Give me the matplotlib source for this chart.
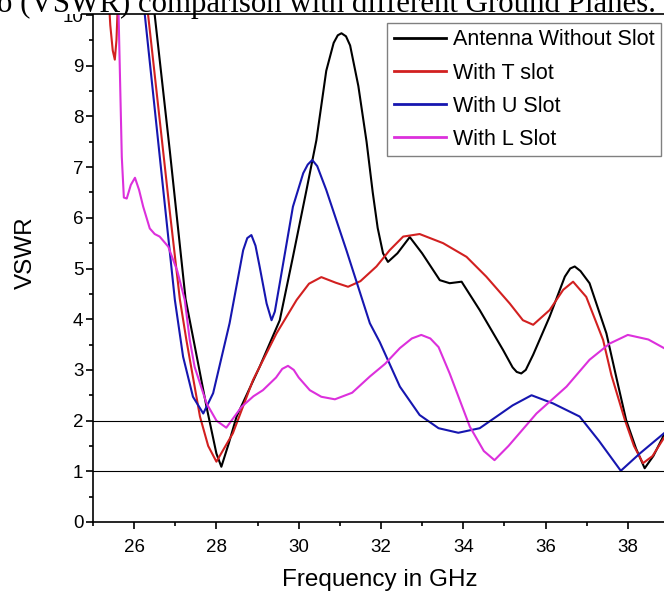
import matplotlib
matplotlib.use('Agg')
import matplotlib.pyplot as plt
from matplotlib.lines import Line2D
from matplotlib.patches import Rectangle

plt.rcParams['font.family'] = ['Liberation Sans', 'DejaVu Sans']

# ---- data (frequency in GHz, VSWR) ----
freq_noslot = [26.37, 26.5, 26.87, 27.25, 27.55, 27.76, 28.0, 28.12, 28.3, 28.49, 29.05, 29.54,
               29.86, 30.19, 30.43, 30.67, 30.85, 30.95, 31.04, 31.15, 31.25, 31.45, 31.65, 31.8,
               31.92, 32.05, 32.17, 32.4, 32.7, 33.0, 33.43, 33.67, 33.96, 34.4, 34.97, 35.2,
               35.3, 35.41, 35.52, 35.7, 36.1, 36.47, 36.6, 36.71, 36.85, 37.07, 37.48, 37.75,
               37.96, 38.2, 38.41, 38.62, 38.88]
vswr_noslot = [11, 10, 7.3, 4.4, 3.15, 2.27, 1.35, 1.09, 1.55, 2.08, 3.06, 3.98,
               5.23, 6.55, 7.53, 8.9, 9.45, 9.6, 9.64, 9.58, 9.4, 8.6, 7.5, 6.5,
               5.8, 5.3, 5.13, 5.3, 5.62, 5.3, 4.77, 4.71, 4.74, 4.18, 3.39, 3.05,
               2.96, 2.93, 3.0, 3.3, 4.05, 4.84, 5.0, 5.04, 4.95, 4.71, 3.72, 2.75,
               2.01, 1.45, 1.06, 1.3, 1.72]

freq_t = [25.35, 25.42, 25.48, 25.53, 25.57, 25.63, 26.2, 26.34, 26.87, 27.11, 27.27, 27.6,
          27.8, 28.0, 28.4, 28.89, 29.46, 29.95, 30.25, 30.55, 30.9, 31.2, 31.5, 31.89,
          32.21, 32.54, 32.94, 33.51, 34.08, 34.56, 35.13, 35.45, 35.7, 36.1, 36.43, 36.67,
          36.99, 37.4, 37.6, 37.93, 38.15, 38.37, 38.6, 38.88]
vswr_t = [10.8, 9.8, 9.3, 9.12, 9.5, 10.8, 11, 10, 6.1, 4.4, 3.59, 2.08,
          1.5, 1.19, 1.75, 2.8, 3.72, 4.38, 4.7, 4.83, 4.72, 4.64, 4.75, 5.04,
          5.36, 5.63, 5.68, 5.5, 5.23, 4.84, 4.31, 3.98, 3.89, 4.18, 4.58, 4.74,
          4.44, 3.59, 2.9, 2.01, 1.5, 1.16, 1.3, 1.66]

freq_u = [26.12, 26.26, 26.99, 27.19, 27.43, 27.68, 27.92, 28.32, 28.65, 28.75, 28.85, 28.95,
          29.05, 29.22, 29.34, 29.42, 29.54, 29.86, 30.11, 30.22, 30.33, 30.45, 30.67, 31.16,
          31.73, 31.97, 32.46, 32.94, 33.4, 33.88, 34.4, 34.81, 35.2, 35.66, 36.18, 36.83,
          37.3, 37.83, 38.29, 38.88]
vswr_u = [11, 10, 4.38, 3.26, 2.47, 2.14, 2.54, 3.92, 5.36, 5.6, 5.66, 5.45,
          5.04, 4.31, 3.98, 4.15, 4.71, 6.22, 6.88, 7.05, 7.14, 7.02, 6.55, 5.36,
          3.92, 3.55, 2.67, 2.11, 1.85, 1.76, 1.85, 2.08, 2.3, 2.5, 2.34, 2.08,
          1.6, 1.01, 1.35, 1.75]

freq_l = [25.6, 25.65, 25.7, 25.75, 25.82, 25.92, 26.02, 26.12, 26.22, 26.38, 26.5, 26.62,
          26.83, 27.05, 27.23, 27.35, 27.47, 27.76, 28.0, 28.24, 28.61, 28.9, 29.13, 29.45,
          29.6, 29.74, 29.88, 30.0, 30.27, 30.55, 30.88, 31.3, 31.73, 32.1, 32.46, 32.75,
          32.98, 33.2, 33.4, 33.67, 34.16, 34.5, 34.76, 35.1, 35.78, 36.51, 37.07, 37.56,
          38.0, 38.5, 38.88]
vswr_l = [10.8, 9.0, 7.2, 6.4, 6.38, 6.65, 6.79, 6.55, 6.22, 5.79, 5.68, 5.63,
          5.43, 4.95, 4.38, 3.6, 3.06, 2.34, 2.0, 1.86, 2.27, 2.48, 2.6, 2.85,
          3.02, 3.08, 3.0, 2.85, 2.6, 2.47, 2.42, 2.55, 2.87, 3.12, 3.43, 3.62,
          3.69, 3.62, 3.45, 2.93, 1.88, 1.4, 1.22, 1.5, 2.14, 2.67, 3.2, 3.52,
          3.69, 3.6, 3.43]

labels = ['Antenna Without Slot', 'With T slot', 'With U Slot', 'With L Slot']
ref_levels = [1, 2]
title_text = 'o (VSWR) comparison with different Ground Planes.'

fig = plt.figure(figsize=(6.64, 6.0), dpi=100)
ax = fig.add_axes([93 / 664, 78 / 600, 1 - 93 / 664, 508 / 600])

ax.plot(freq_noslot, vswr_noslot, color='#000000', lw=1.5, label=labels[0])
ax.plot(freq_t, vswr_t, color='#d22020', lw=1.5, label=labels[1])
ax.plot(freq_u, vswr_u, color='#1616b0', lw=1.5, label=labels[2])
ax.plot(freq_l, vswr_l, color='#dc30dc', lw=1.5, label=labels[3])

for lev in ref_levels:
    ax.axhline(lev, color='black', lw=0.8)

ax.set_xlim(25, 38.88)
ax.set_ylim(0, 10.02)
ax.set_xticks(range(26, 39, 2))
ax.set_xticks(range(25, 39), minor=True)
ax.set_yticks(range(0, 11))
ax.set_yticks([i + 0.5 for i in range(10)], minor=True)
ax.tick_params(which='major', direction='out', length=5, width=1.2, labelsize=13.5)
ax.tick_params(which='minor', direction='out', length=3, width=1.2)
ax.tick_params(axis='y', pad=2)
ax.tick_params(axis='x', pad=7)
ax.spines['top'].set_visible(False)
ax.spines['right'].set_visible(False)
ax.spines['left'].set_linewidth(1.2)
ax.spines['bottom'].set_linewidth(1.2)

ax.set_xlabel('Frequency in GHz', fontsize=17.5)
ax.set_ylabel('VSWR', fontsize=17.5)
ax.xaxis.set_label_coords(0.503, -0.092)
ax.yaxis.set_label_coords(-0.098, 0.531)

leg = ax.legend(loc='upper right', bbox_to_anchor=(0.9947, 0.9823), borderaxespad=0,
                fontsize=15.5, fancybox=False, framealpha=1, handlelength=2.45,
                handletextpad=0.3, labelspacing=0.56, borderpad=0.3)
leg.get_frame().set_edgecolor('#808080')
leg.get_frame().set_linewidth(1.0)
for h in leg.get_lines():
    h.set_linewidth(2.0)

# cut-off caption strip on top of the figure
fig.add_artist(Rectangle((0, 1 - 14 / 600), 1, 14 / 600, transform=fig.transFigure,
                         facecolor='white', edgecolor='none', zorder=5))
fig.add_artist(Line2D([82 / 664, 1], [1 - 14 / 600, 1 - 14 / 600], transform=fig.transFigure,
                      color='black', lw=1.2, zorder=6))
fig.text(656 / 664, 1 - 12 / 600, title_text, ha='right', va='baseline',
         fontsize=22.2, family='Liberation Serif', zorder=7)

fig.savefig('out.png', dpi=100)
